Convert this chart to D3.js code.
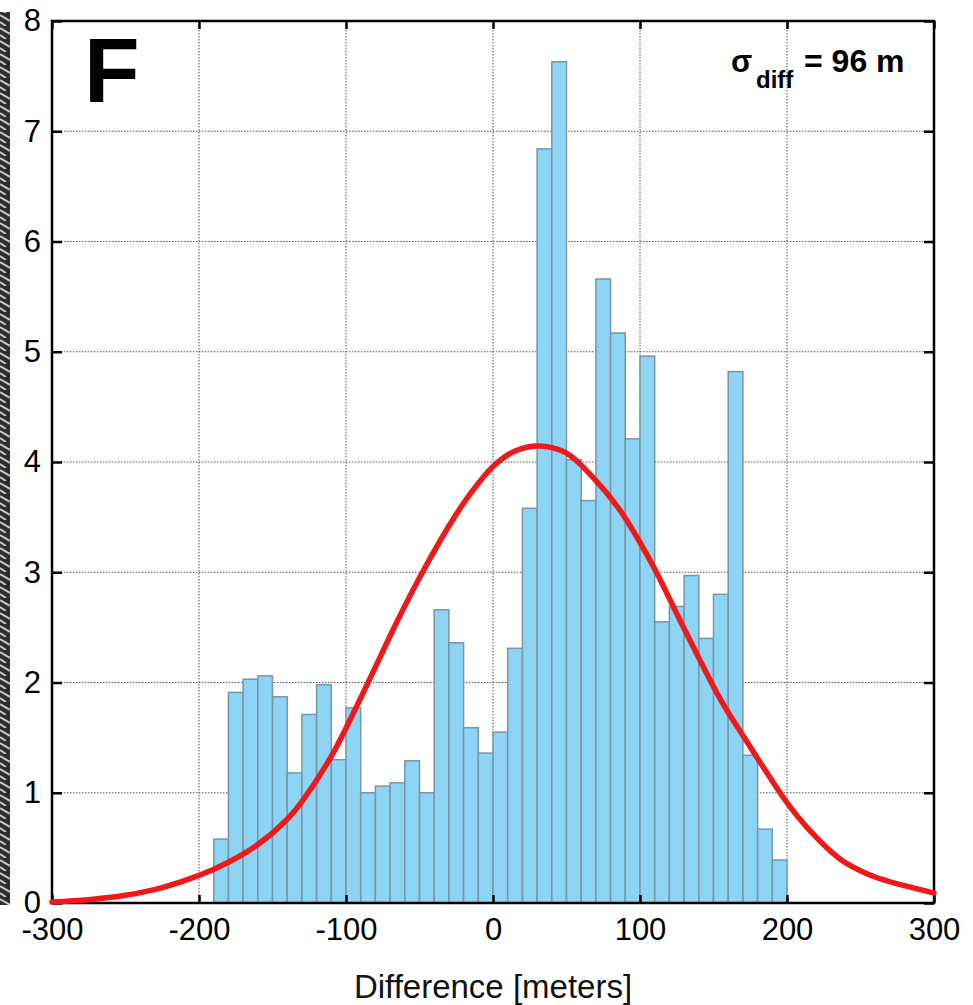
<!DOCTYPE html>
<html>
<head>
<meta charset="utf-8">
<script src="https://cdn.jsdelivr.net/npm/d3@7"></script>
<style>
  body { margin: 0; background: #fff; }
  svg text { font-family: "Liberation Sans", Arial, Helvetica, sans-serif; }
</style>
</head>
<body>
<div id="chart"></div>
<script>
// histogram bins (left edge, width 10 m) and their heights
const binLeft = [-190, -180, -170, -160, -150, -140, -130, -120, -110, -100,
                 -90, -80, -70, -60, -50, -40, -30, -20, -10, 0,
                 10, 20, 30, 40, 50, 60, 70, 80, 90, 100,
                 110, 120, 130, 140, 150, 160, 170, 180, 190];
const binWidth = 10;
const binValue = [0.58, 1.91, 2.03, 2.06, 1.87, 1.18, 1.71, 1.98, 1.30, 1.77,
                  1.00, 1.06, 1.09, 1.29, 1.00, 2.66, 2.36, 1.59, 1.36, 1.55,
                  2.31, 3.58, 6.84, 7.63, 4.02, 3.65, 5.66, 5.17, 4.21, 4.96,
                  2.55, 2.69, 2.97, 2.40, 2.80, 4.82, 1.34, 0.67, 0.39];

// red fitted curve
const curveX = [-300, -275, -250, -225, -200, -180, -160, -140, -130, -110,
                -90, -65, -50, -30, -15, 0, 15, 32, 50, 68,
                86, 100, 110, 130, 155, 170, 182, 200, 214, 236,
                259, 282, 300];
const curveY = [0.01, 0.03, 0.07, 0.14, 0.25, 0.37, 0.53, 0.76, 0.92, 1.33,
                1.86, 2.56, 2.95, 3.42, 3.72, 3.96, 4.10, 4.145, 4.08, 3.86,
                3.57, 3.27, 3.03, 2.49, 1.84, 1.52, 1.27, 0.91, 0.68, 0.40,
                0.24, 0.15, 0.09];

const xTicks = [-300, -200, -100, 0, 100, 200, 300];
const yTicks = [0, 1, 2, 3, 4, 5, 6, 7, 8];
const xLabel = "Difference [meters]";
const panelLetter = "F";

const width = 973, height = 1005;
const mLeft = 52, mRight = 934, mTop = 21, mBottom = 903;

const svg = d3.select("#chart").append("svg")
  .attr("width", width)
  .attr("height", height);

svg.append("rect").attr("width", width).attr("height", height).attr("fill", "#fff");

// dark scanned strip from the neighbouring panel on the far left
const defs = svg.append("defs");
const pat = defs.append("pattern")
  .attr("id", "scan")
  .attr("width", 10).attr("height", 13)
  .attr("patternUnits", "userSpaceOnUse");
pat.append("rect").attr("width", 10).attr("height", 13).attr("fill", "#2e2e2e");
pat.append("path").attr("d", "M0,2 L10,8 M0,9 L6,13").attr("stroke", "#c8c8c8").attr("stroke-width", 2);
svg.append("rect")
  .attr("x", 0).attr("y", 12)
  .attr("width", 10).attr("height", 893)
  .attr("fill", "url(#scan)");

const x = d3.scaleLinear().domain([-300, 300]).range([mLeft, mRight]);
const y = d3.scaleLinear().domain([0, 8]).range([mBottom, mTop]);

// dotted grid
const grid = svg.append("g").attr("stroke", "#555").attr("stroke-width", 1).attr("stroke-dasharray", "1.5,1.5");
grid.selectAll("line.v")
  .data(xTicks.slice(1, -1)).enter()
  .append("line")
  .attr("x1", d => x(d)).attr("x2", d => x(d))
  .attr("y1", mTop).attr("y2", mBottom);
grid.selectAll("line.h")
  .data(yTicks.slice(1, -1)).enter()
  .append("line")
  .attr("x1", mLeft).attr("x2", mRight)
  .attr("y1", d => y(d)).attr("y2", d => y(d));

// bars
svg.append("g")
  .selectAll("rect")
  .data(binLeft.map((b, i) => ({ b: b, v: binValue[i] }))).enter()
  .append("rect")
  .attr("x", d => x(d.b))
  .attr("width", d => x(d.b + binWidth) - x(d.b))
  .attr("y", d => y(d.v))
  .attr("height", d => y(0) - y(d.v))
  .attr("fill", "#8ed4f5")
  .attr("stroke", "#7896a8")
  .attr("stroke-width", 1.5);

// axes with inward ticks
const fmt = d => String(d);
const xAxis = svg.append("g")
  .attr("transform", "translate(0," + mBottom + ")")
  .call(d3.axisBottom(x).tickValues(xTicks).tickSize(-8).tickPadding(15).tickFormat(fmt));
const xTopAxis = svg.append("g")
  .attr("transform", "translate(0," + mTop + ")")
  .call(d3.axisTop(x).tickValues(xTicks).tickSize(-8).tickFormat(""));
const yAxis = svg.append("g")
  .attr("transform", "translate(" + mLeft + ",0)")
  .call(d3.axisLeft(y).tickValues(yTicks).tickSize(-10).tickPadding(11).tickFormat(fmt));
const yRightAxis = svg.append("g")
  .attr("transform", "translate(" + mRight + ",0)")
  .call(d3.axisRight(y).tickValues(yTicks).tickSize(-10).tickFormat(""));

[xAxis, xTopAxis, yAxis, yRightAxis].forEach(g => {
  g.select(".domain").remove();
  g.selectAll(".tick line").attr("stroke", "#000").attr("stroke-width", 2.5);
  g.selectAll(".tick text")
    .attr("fill", "#000")
    .style("font-size", "31px")
    .style("font-family", "'Liberation Sans', Arial, sans-serif");
});

// frame
svg.append("rect")
  .attr("x", mLeft).attr("y", mTop)
  .attr("width", mRight - mLeft).attr("height", mBottom - mTop)
  .attr("fill", "none")
  .attr("stroke", "#000")
  .attr("stroke-width", 2.5);

// fitted normal curve
const line = d3.line()
  .x(d => x(d[0]))
  .y(d => y(d[1]))
  .curve(d3.curveCatmullRom);
svg.append("path")
  .datum(curveX.map((v, i) => [v, curveY[i]]))
  .attr("d", line)
  .attr("fill", "none")
  .attr("stroke", "#f01818")
  .attr("stroke-width", 5.5)
  .attr("stroke-linecap", "round");

// x label
svg.append("text")
  .attr("x", (mLeft + mRight) / 2)
  .attr("y", 998)
  .attr("text-anchor", "middle")
  .style("font-size", "33px")
  .attr("fill", "#111")
  .text(xLabel);

// panel letter
svg.append("text")
  .attr("x", 84)
  .attr("y", 102)
  .style("font-size", "91px")
  .style("font-weight", "bold")
  .attr("fill", "#000")
  .text(panelLetter);

// sigma annotation
const ann = svg.append("g").attr("fill", "#000").style("font-weight", "bold");
ann.append("text").attr("x", 731).attr("y", 72).style("font-size", "31px").text("σ");
ann.append("text").attr("x", 756).attr("y", 88).style("font-size", "24px").text("diff");
ann.append("text").attr("x", 804).attr("y", 72).style("font-size", "32px").text("= 96 m");
</script>
</body>
</html>
